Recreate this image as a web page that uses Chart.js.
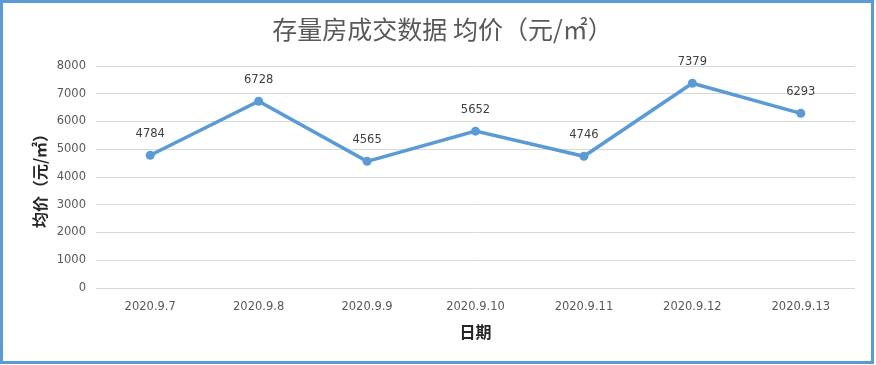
<!DOCTYPE html>
<html>
<head>
<meta charset="utf-8">
<script src="https://cdn.jsdelivr.net/npm/chart.js@4"></script>
<style>
  body { margin: 0; background: #fff; }
  #box {
    position: absolute; left: 0; top: 0;
    width: 868px; height: 358px;
    border: 3px solid #5b9bd5;
  }
</style>
</head>
<body>
<div id="box"><canvas id="priceChart"></canvas></div>
<script>
const dates = ['2020.9.7', '2020.9.8', '2020.9.9', '2020.9.10', '2020.9.11', '2020.9.12', '2020.9.13'];
const avgPrice = [4784, 6728, 4565, 5652, 4746, 7379, 6293];
const yTicks = [0, 1000, 2000, 3000, 4000, 5000, 6000, 7000, 8000];

const tickFont = { family: '"DejaVu Sans", sans-serif', size: 11.5 };
const cjk = '"Noto Sans CJK SC", sans-serif';

// labels above each point
const pointLabels = {
    id: 'pointLabels',
    afterDatasetsDraw(chart) {
        const ctx = chart.ctx;
        const meta = chart.getDatasetMeta(0);
        ctx.save();
        ctx.font = '11.5px "DejaVu Sans", sans-serif';
        ctx.fillStyle = '#404040';
        ctx.textAlign = 'center';
        ctx.textBaseline = 'middle';
        meta.data.forEach((pt, i) => {
            ctx.fillText(String(avgPrice[i]), pt.x, pt.y - 21);
        });
        ctx.restore();
    }
};

const ctx = document.getElementById('priceChart').getContext('2d');
const priceChart = new Chart(ctx, {
    type: 'line',
    data: {
        labels: dates,
        datasets: [{
            data: avgPrice,
            borderColor: '#5b9bd5',
            backgroundColor: '#5b9bd5',
            borderWidth: 3.5,
            pointRadius: 4.5,
            pointBorderWidth: 0,
            tension: 0
        }]
    },
    options: {
        responsive: true,
        maintainAspectRatio: false,
        animation: false,
        layout: { padding: { left: 27, right: 16, top: 0, bottom: 15 } },
        plugins: {
            legend: { display: false },
            tooltip: { enabled: false },
            title: {
                display: true,
                text: '存量房成交数据 均价（元/㎡）',
                color: '#595959',
                font: { family: cjk, size: 25, weight: 'normal' },
                padding: { top: 11, bottom: 22 }
            }
        },
        scales: {
            x: {
                offset: true,
                grid: { display: false, drawTicks: false },
                border: { display: false },
                ticks: { color: '#595959', font: tickFont, padding: 12, maxRotation: 0 },
                title: {
                    display: true,
                    text: '日期',
                    color: '#262626',
                    font: { family: cjk, size: 16, weight: 'bold' },
                    padding: { top: -3, bottom: 4 }
                }
            },
            y: {
                min: 0,
                max: 8000,
                afterBuildTicks(scale) {
                    scale.ticks = yTicks.map(v => ({ value: v }));
                },
                afterFit(scale) { scale.width = 66; },
                grid: { color: '#d9d9d9', lineWidth: 1, drawTicks: false },
                border: { display: false },
                ticks: { color: '#595959', font: tickFont, padding: 10, callback: v => String(v) },
                title: {
                    display: true,
                    text: '均价（元/㎡）',
                    color: '#262626',
                    font: { family: cjk, size: 16, weight: 'bold' },
                    padding: 0
                }
            }
        }
    },
    plugins: [pointLabels]
});
</script>
</body>
</html>
